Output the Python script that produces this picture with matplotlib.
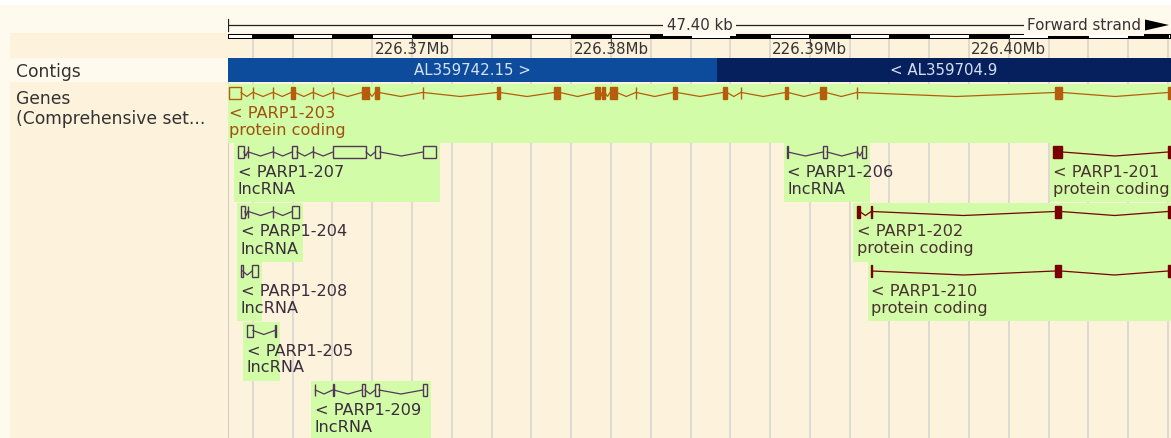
import matplotlib
matplotlib.use("Agg")
import matplotlib.pyplot as plt
from matplotlib.patches import Rectangle, Polygon

# ---------------- data ----------------
VIEW_START = 226360750
VIEW_END = 226408150
SPAN_LABEL = "47.40 kb"
STRAND_LABEL = "Forward strand"

TICK_POS = [226370000, 226380000, 226390000, 226400000]
TICK_LABELS = ["226.37Mb", "226.38Mb", "226.39Mb", "226.40Mb"]

CONTIG_NAMES = ["AL359742.15 >", "< AL359704.9"]
CONTIG_STARTS = [226360750, 226385330]
CONTIG_ENDS = [226385330, 226408150]

TRACK_LABELS = ["Contigs", "Genes", "(Comprehensive set..."]

GENE_NAMES = ["< PARP1-203", "< PARP1-207", "< PARP1-206", "< PARP1-201",
              "< PARP1-204", "< PARP1-202", "< PARP1-208", "< PARP1-210",
              "< PARP1-205", "< PARP1-209"]
GENE_BIOTYPES = ["protein coding", "lncRNA", "lncRNA", "protein coding",
                 "lncRNA", "protein coding", "lncRNA", "protein coding",
                 "lncRNA", "lncRNA"]
GENE_ROWS = [0, 1, 1, 1, 2, 2, 3, 3, 4, 5]

# exon (start, end) pairs in bp
EXONS_203 = [(226360780, 226361400), (226361990, 226362030), (226362990, 226363030),
             (226363920, 226364120), (226365000, 226365040), (226366010, 226366050),
             (226367490, 226367840), (226368140, 226368340), (226370530, 226370570),
             (226374270, 226374420), (226377140, 226377440), (226379200, 226379450),
             (226379550, 226379700), (226379950, 226380300), (226381240, 226381280),
             (226383120, 226383320), (226385630, 226385830), (226386520, 226386560),
             (226388750, 226388900), (226390510, 226390810), (226392350, 226392390),
             (226402320, 226402680), (226408000, 226408300)]
EXONS_207 = [(226361250, 226361550), (226361740, 226361780), (226362990, 226363030),
             (226363970, 226364220), (226365000, 226365040), (226366030, 226367690),
             (226368140, 226368390), (226370550, 226371210)]
EXONS_206 = [(226388850, 226388890), (226390660, 226390860), (226392350, 226392390),
             (226392620, 226392820)]
EXONS_201 = [(226402220, 226402680), (226408000, 226408300)]
EXONS_204 = [(226361400, 226361600), (226361740, 226361780), (226362990, 226363030),
             (226363970, 226364320)]
EXONS_202 = [(226392350, 226392500), (226393080, 226393120), (226402320, 226402620),
             (226408000, 226408300)]
EXONS_208 = [(226361400, 226361480), (226361960, 226362260)]
EXONS_210 = [(226393080, 226393120), (226402320, 226402620), (226408000, 226408300)]
EXONS_205 = [(226361700, 226362000), (226363100, 226363140)]
EXONS_209 = [(226365100, 226365140), (226366010, 226366070), (226367490, 226367640),
             (226368140, 226368340), (226370550, 226370750)]
GENE_EXONS = [EXONS_203, EXONS_207, EXONS_206, EXONS_201, EXONS_204,
              EXONS_202, EXONS_208, EXONS_210, EXONS_205, EXONS_209]
# exons drawn as open (non-coding) boxes for the protein coding transcripts
OPEN_EXONS_203 = [0]

# ---------------- style ----------------
W, H = 1171, 438
DPI = 100
TRACK_X0 = 228
LIGHT_BG = "#fff9ee"
DARK_BG = "#fdf2dc"
GRID = "#d6d3cc"
LABEL_GREEN = "#d3fca8"
STYLE = {
    "203": dict(line="#b55d0c", text="#a0500f"),
    "protein coding": dict(line="#7a0000", text="#4a3030"),
    "lncRNA": dict(line="#56355a", text="#3b2d3d"),
}
FS = 10.8
FS_GENE = 11.6
FS_LEFT = 12.3
BP_PER_PX = (VIEW_END - VIEW_START) / (W - TRACK_X0)

fig = plt.figure(figsize=(W / DPI, H / DPI), dpi=DPI)
fig.patch.set_facecolor("white")

# background axes in pixel units
bg = fig.add_axes([0, 0, 1, 1])
bg.set_xlim(0, W)
bg.set_ylim(H, 0)
bg.axis("off")
bg.add_patch(Rectangle((0, 5), W, H - 5, facecolor=LIGHT_BG, edgecolor="none"))
bg.add_patch(Rectangle((10, 33), W - 10, 24.5, facecolor=DARK_BG, edgecolor="none"))
bg.add_patch(Rectangle((10, 82), W - 10, H - 82, facecolor=DARK_BG, edgecolor="none"))
bg.text(16, 72, TRACK_LABELS[0], fontsize=FS_LEFT, color="#333333", va="center")
bg.text(16, 99, TRACK_LABELS[1], fontsize=FS_LEFT, color="#333333", va="center")
bg.text(16, 119, TRACK_LABELS[2], fontsize=FS_LEFT, color="#333333", va="center")

# track axes: x in bp, y in pixel rows
ax = fig.add_axes([TRACK_X0 / W, 0, (W - TRACK_X0) / W, 1])
ax.set_xlim(VIEW_START, VIEW_END)
ax.set_ylim(H, 0)
ax.axis("off")
ax.patch.set_alpha(0)

px = BP_PER_PX

# grid every 2 kb
g = (VIEW_START // 2000 + 1) * 2000
while g < VIEW_END:
    ax.plot([g, g], [38, H], color=GRID, lw=1.1, zorder=1)
    g += 2000
ax.plot([VIEW_START + 0.5 * px] * 2, [82, H], color="#c4c0b8", lw=1.1, zorder=1)

# top ruler with span label
ax.plot([VIEW_START, VIEW_END - 30 * px], [25, 25], color="#222222", lw=0.9, zorder=2)
ax.plot([VIEW_START + 0.5 * px] * 2, [19, 31], color="#222222", lw=0.9, zorder=2)
mid = (VIEW_START + VIEW_END) / 2
ax.text(mid, 25, SPAN_LABEL, fontsize=FS, color="#333333", ha="center", va="center",
        zorder=3, bbox=dict(facecolor=LIGHT_BG, edgecolor="none", pad=2.5))
ax.text(VIEW_END - 30 * px, 25, STRAND_LABEL, fontsize=FS, color="#333333", ha="right",
        va="center", zorder=3, bbox=dict(facecolor=LIGHT_BG, edgecolor="none", pad=2.5))
ax.add_patch(Polygon([[VIEW_END - 26 * px, 19.5], [VIEW_END - 26 * px, 30.5],
                      [VIEW_END - 2 * px, 25]], closed=True, facecolor="black",
                     edgecolor="none", zorder=3))

# alternating scale bar, 2 kb blocks
ax.add_patch(Rectangle((VIEW_START, 33.5), VIEW_END - VIEW_START, 5, facecolor="black",
                       edgecolor="none", zorder=2))
s = (VIEW_START // 2000) * 2000
while s < VIEW_END:
    if (s // 2000) % 2 == 0:
        a = max(s, VIEW_START)
        b = min(s + 2000, VIEW_END)
        ax.add_patch(Rectangle((a + 1.0 * px, 35), b - a - 1.5 * px, 2.5, facecolor="white",
                               edgecolor="none", zorder=3))
    s += 2000

# tick labels
for pos, lab in zip(TICK_POS, TICK_LABELS):
    ax.plot([pos, pos], [38, 45], color="#555555", lw=0.8, zorder=2)
    ax.text(pos, 50, lab, fontsize=FS, color="#333333", ha="center", va="center", zorder=3)

# contigs
contig_cols = ["#0d4c9c", "#06205e"]
for a, b, name, c in zip(CONTIG_STARTS, CONTIG_ENDS, CONTIG_NAMES, contig_cols):
    ax.add_patch(Rectangle((a, 58), b - a, 24, facecolor=c, edgecolor="none", zorder=4))
    ax.text((a + b) / 2, 70.5, name, fontsize=FS, color="#d6e2f4", ha="center",
            va="center", zorder=5)

# genes
ROW_TOP0 = 83.5
ROW_H = 59.5
EXON_HALF = 6.0
DIP = 4.0
for gi, (name, bt, row, exons) in enumerate(zip(GENE_NAMES, GENE_BIOTYPES, GENE_ROWS,
                                              GENE_EXONS)):
    sty = STYLE["203"] if gi == 0 else STYLE[bt]
    top = ROW_TOP0 + ROW_H * row
    yc = top + 9
    g0 = exons[0][0]
    g1 = exons[-1][1]
    if gi == 0:
        box0, box1 = VIEW_START, VIEW_END
        tx = VIEW_START + 1 * px
    else:
        box0, box1 = g0 - 3.5 * px, min(g1 + 4 * px, VIEW_END)
        tx = g0
    ax.add_patch(Rectangle((box0, top), box1 - box0, ROW_H - 0.5, facecolor=LABEL_GREEN,
                           edgecolor="none", zorder=2))
    # introns as shallow V shapes
    for (a0, a1), (b0, b1) in zip(exons[:-1], exons[1:]):
        m = (a1 + b0) / 2
        ax.plot([a1, m, b0], [yc, yc + DIP, yc], color=sty["line"], lw=0.9, zorder=3,
                solid_joinstyle="miter")
    for ei, (a, b) in enumerate(exons):
        filled = bt == "protein coding" and not (gi == 0 and ei in OPEN_EXONS_203)
        w = max(b - a, 0.8 * px)
        ax.add_patch(Rectangle((a, yc - EXON_HALF), w, 2 * EXON_HALF,
                               facecolor=sty["line"] if filled else "none",
                               edgecolor=sty["line"], lw=1.0, zorder=4))
    ax.text(tx, top + 29.5, name, fontsize=FS_GENE, color=sty["text"], ha="left",
            va="center", zorder=5)
    ax.text(tx, top + 46.5, bt, fontsize=FS_GENE, color=sty["text"], ha="left",
            va="center", zorder=5)

fig.savefig("out.png", dpi=DPI, facecolor=fig.get_facecolor())
